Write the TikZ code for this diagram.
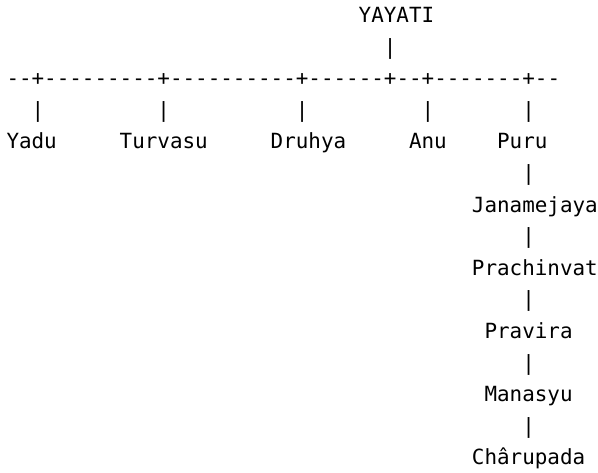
\documentclass[tikz,border=0pt]{standalone}
\usepackage{fontspec}
\setmonofont{DejaVu Sans Mono}
\begin{document}
\begin{tikzpicture}[x=1pt,y=1pt,
  txt/.style={anchor=base west, inner sep=0pt, outer sep=0pt, text=black,
    font=\fontsize{20.9}{20.9}\selectfont\ttfamily}]
\useasboundingbox (0,0) rectangle (598,-472);
\def\cw{12.58}
\def\lh{31.6}
\def\xo{6.5}
\def\yo{22.5}
\newcommand\at[2]{({\xo+#1*\cw},{-(\yo+#2*\lh)})}
\node[txt] (yayati) at \at{28}{0} {YAYATI};
\node[txt] (b0) at \at{30}{1} {|};
\node[txt] (dash) at \at{0}{2} {--+---------+----------+------+--+-------+--};
\node[txt] (b1) at \at{2}{3} {|};
\node[txt] (b2) at \at{12}{3} {|};
\node[txt] (b3) at \at{23}{3} {|};
\node[txt] (b4) at \at{33}{3} {|};
\node[txt] (b5) at \at{41}{3} {|};
\node[txt] (yadu) at \at{0}{4} {Yadu};
\node[txt] (turvasu) at \at{9}{4} {Turvasu};
\node[txt] (druhya) at \at{21}{4} {Druhya};
\node[txt] (anu) at \at{32}{4} {Anu};
\node[txt] (puru) at \at{39}{4} {Puru};
\node[txt] (b6) at \at{41}{5} {|};
\node[txt] (janamejaya) at \at{37}{6} {Janamejaya};
\node[txt] (b7) at \at{41}{7} {|};
\node[txt] (prachinvat) at \at{37}{8} {Prachinvat};
\node[txt] (b8) at \at{41}{9} {|};
\node[txt] (pravira) at \at{38}{10} {Pravira};
\node[txt] (b9) at \at{41}{11} {|};
\node[txt] (manasyu) at \at{38}{12} {Manasyu};
\node[txt] (b10) at \at{41}{13} {|};
\node[txt] (charupada) at \at{37}{14} {Chârupada};
\end{tikzpicture}
\end{document}
